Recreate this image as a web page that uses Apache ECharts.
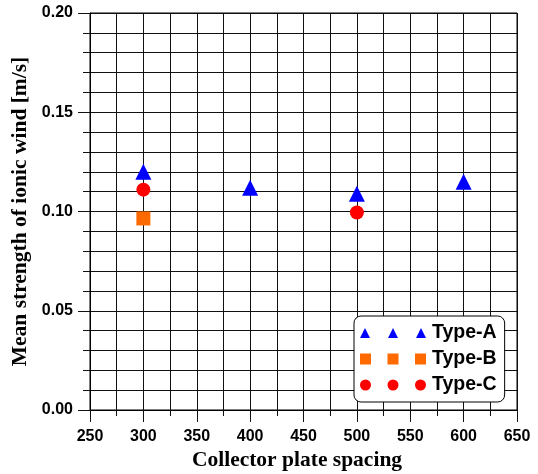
<!DOCTYPE html>
<html>
<head>
<meta charset="utf-8">
<script src="https://cdn.jsdelivr.net/npm/echarts@6/dist/echarts.min.js"></script>
<style>html,body{margin:0;padding:0;background:#fff;}#c{width:538px;height:474px;}</style>
</head>
<body>
<div id="c"></div>
<script>
var xTicks = [250, 300, 350, 400, 450, 500, 550, 600, 650];
var yTicks = [0.00, 0.05, 0.10, 0.15, 0.20];
var typeA = [[300, 0.120], [400, 0.112], [500, 0.109], [600, 0.115]];
var typeB = [[300, 0.0965]];
var typeC = [[300, 0.111], [500, 0.0995]];
var seriesNames = ['Type-A', 'Type-B', 'Type-C'];

var triPath = 'path://M0,10L5,0L10,10Z M28,10L33,0L38,10Z M56,10L61,0L66,10Z';
var sqPath = 'path://M0,0H11V11H0Z M27.5,0H38.5V11H27.5Z M55,0H66V11H55Z';
var cirPath = 'path://M0,5.5A5.5,5.5 0 1,0 11,5.5A5.5,5.5 0 1,0 0,5.5Z M27.5,5.5A5.5,5.5 0 1,0 38.5,5.5A5.5,5.5 0 1,0 27.5,5.5Z M55,5.5A5.5,5.5 0 1,0 66,5.5A5.5,5.5 0 1,0 55,5.5Z';

var chart = echarts.init(document.getElementById('c'));
var lineCol = '#111';
chart.setOption({
  animation: false,
  backgroundColor: '#fff',
  grid: {left: 90, right: 21, top: 13, bottom: 64, outerBoundsMode: 'none', containLabel: false, show: true, borderColor: '#000', borderWidth: 1, backgroundColor: 'transparent'},
  xAxis: {
    type: 'value', min: xTicks[0], max: xTicks[xTicks.length - 1], interval: 50,
    name: 'Collector plate spacing', nameLocation: 'middle', nameGap: 35,
    nameTextStyle: {fontFamily: 'Liberation Serif', fontWeight: 'bold', fontSize: 21.5, color: '#000', padding: [0, 13, 0, 0]},
    axisLine: {show: true, lineStyle: {color: '#000', width: 1}},
    axisTick: {show: true, inside: false, length: 12, lineStyle: {color: lineCol}},
    minorTick: {show: true, splitNumber: 2, length: 6, lineStyle: {color: lineCol}},
    splitLine: {show: true, lineStyle: {color: lineCol, width: 1}},
    minorSplitLine: {show: true, lineStyle: {color: lineCol, width: 1}},
    axisLabel: {margin: 19, fontFamily: 'Liberation Sans', fontWeight: 'bold', fontSize: 16, color: '#000'}
  },
  yAxis: {
    type: 'value', min: yTicks[0], max: yTicks[yTicks.length - 1], interval: 0.05,
    name: 'Mean strength of ionic wind [m/s]', nameLocation: 'middle', nameGap: 56, nameRotate: 90,
    nameTextStyle: {fontFamily: 'Liberation Serif', fontWeight: 'bold', fontSize: 21.5, color: '#000'},
    axisLine: {show: true, lineStyle: {color: '#000', width: 1}},
    axisTick: {show: true, inside: false, length: 12, lineStyle: {color: lineCol}},
    minorTick: {show: true, splitNumber: 5, length: 7, lineStyle: {color: lineCol}},
    splitLine: {show: true, lineStyle: {color: lineCol, width: 1}},
    minorSplitLine: {show: true, lineStyle: {color: lineCol, width: 1}},
    axisLabel: {margin: 17, fontFamily: 'Liberation Sans', fontWeight: 'bold', fontSize: 16, color: '#000',
      formatter: function (v) { return v.toFixed(2); }}
  },
  legend: {
    orient: 'vertical', left: 354, top: 316, width: 150,
    padding: [7, 8, 7, 6], itemGap: 6,
    itemWidth: 66, itemHeight: 11,
    backgroundColor: '#fff', borderColor: '#000', borderWidth: 1, borderRadius: 7,
    textStyle: {fontFamily: 'Liberation Sans', fontWeight: 'bold', fontSize: 19.5, color: '#000', lineHeight: 18, padding: [0, 0, 0, 1]},
    data: [
      {name: seriesNames[0], icon: triPath},
      {name: seriesNames[1], icon: sqPath},
      {name: seriesNames[2], icon: cirPath}
    ]
  },
  series: [
    {name: seriesNames[0], type: 'scatter', data: typeA, symbol: 'triangle', symbolSize: 16, itemStyle: {color: '#0000ff', opacity: 1}},
    {name: seriesNames[1], type: 'scatter', data: typeB, symbol: 'rect', symbolSize: 14, itemStyle: {color: '#ff6a00', opacity: 1}},
    {name: seriesNames[2], type: 'scatter', data: typeC, symbol: 'circle', symbolSize: 14, itemStyle: {color: '#ff0000', opacity: 1}}
  ]
});
</script>
</body>
</html>
